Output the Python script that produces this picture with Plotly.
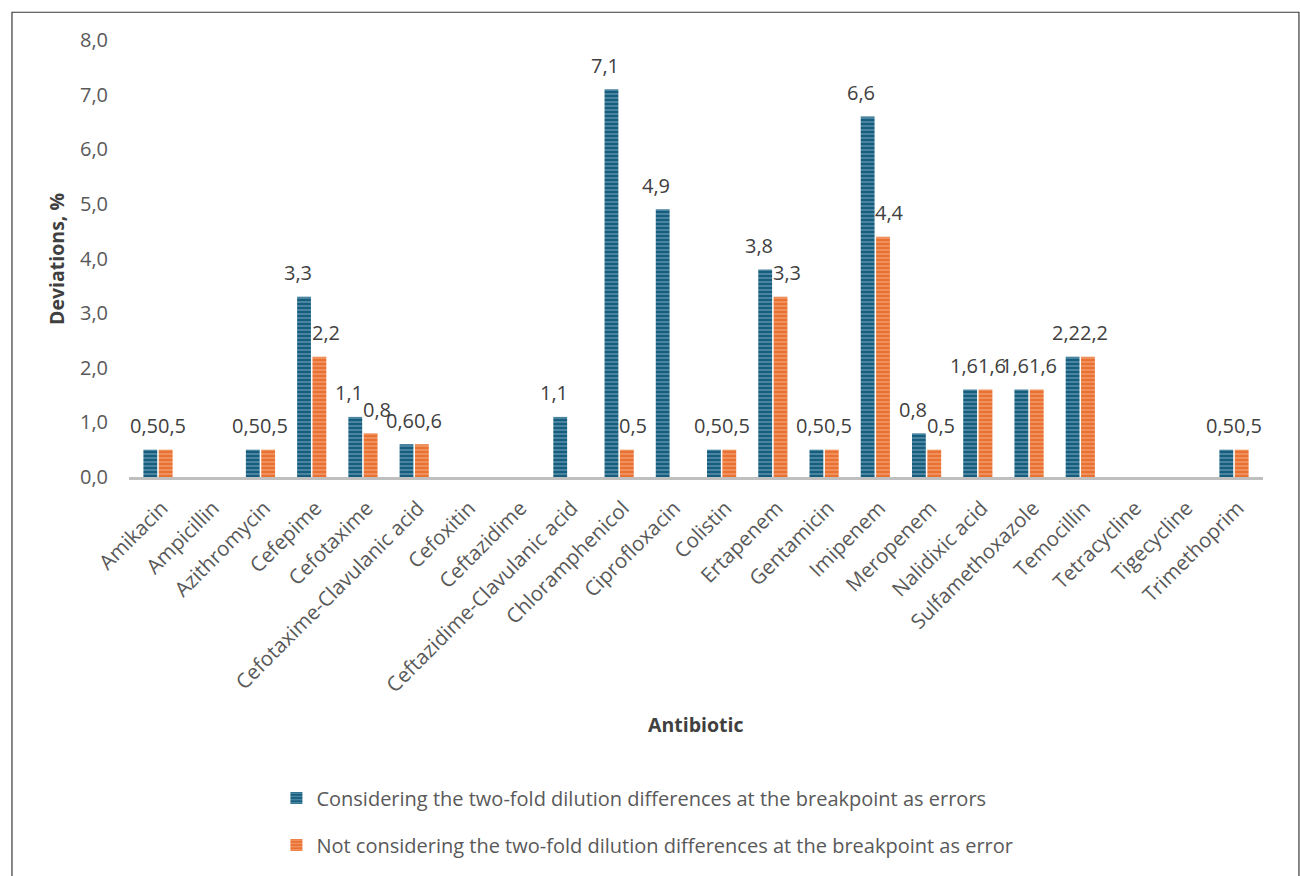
import plotly.graph_objects as go

# Antibiotics and deviation percentages for the two counting rules
antibiotics = [
    "Amikacin", "Ampicillin", "Azithromycin", "Cefepime", "Cefotaxime",
    "Cefotaxime-Clavulanic acid", "Cefoxitin", "Ceftazidime",
    "Ceftazidime-Clavulanic acid", "Chloramphenicol", "Ciprofloxacin",
    "Colistin", "Ertapenem", "Gentamicin", "Imipenem", "Meropenem",
    "Nalidixic acid", "Sulfamethoxazole", "Temocillin", "Tetracycline",
    "Tigecycline", "Trimethoprim",
]
with_twofold = [0.5, 0, 0.5, 3.3, 1.1, 0.6, 0, 0, 1.1, 7.1, 4.9,
                0.5, 3.8, 0.5, 6.6, 0.8, 1.6, 1.6, 2.2, 0, 0, 0.5]
without_twofold = [0.5, 0, 0.5, 2.2, 0.8, 0.6, 0, 0, 0, 0.5, 0,
                   0.5, 3.3, 0.5, 4.4, 0.5, 1.6, 1.6, 2.2, 0, 0, 0.5]
series_names = [
    "Considering the two-fold dilution differences at the breakpoint as errors",
    "Not considering the two-fold dilution differences at the breakpoint as error",
]
y_ticks = [0, 1, 2, 3, 4, 5, 6, 7, 8]

FONT = "Open Sans"
BLUE, BLUE_STRIPE = "#175d7e", "#86b5cb"
ORANGE, ORANGE_STRIPE = "#e97132", "#f7b792"


def fmt(v):
    return f"{v:.1f}".replace(".", ",")


fig = go.Figure()
for name, vals, col, stripe, grp in [
    (series_names[0], with_twofold, BLUE, BLUE_STRIPE, "a"),
    (series_names[1], without_twofold, ORANGE, ORANGE_STRIPE, "b"),
]:
    fig.add_trace(go.Bar(
        x=antibiotics, y=vals, name=name, legendgroup=grp,
        marker=dict(color=col, line=dict(width=0),
                    pattern=dict(shape="-", fgcolor=stripe, size=4,
                                 solidity=0.45, fillmode="overlay")),
    ))

# Value labels: first series to the left of the category centre, second to the right
annotations = []
for vals, anchor, shift in [(with_twofold, "right", 1), (without_twofold, "left", -1)]:
    for cat, v in zip(antibiotics, vals):
        if v > 0:
            annotations.append(dict(
                x=cat, y=v, xref="x", yref="y", text=fmt(v), showarrow=False,
                xanchor=anchor, yanchor="middle", yshift=24, xshift=shift,
                borderpad=0,
                font=dict(family=FONT, size=20, color="#404040"),
            ))

annotations.append(dict(
    x=0.5, y=-0.567, xref="paper", yref="paper", text="<b>Antibiotic</b>",
    showarrow=False, xanchor="center", yanchor="middle",
    font=dict(family=FONT, size=19.5, color="#404040"),
))
annotations.append(dict(
    x=-0.064, y=0.5, xref="paper", yref="paper", text="<b>Deviations, %</b>",
    showarrow=False, textangle=-90, xanchor="center", yanchor="middle",
    font=dict(family=FONT, size=19.5, color="#404040"),
))

fig.update_layout(
    width=1300, height=876,
    margin=dict(l=129, r=37, t=40, b=395),
    paper_bgcolor="white", plot_bgcolor="white",
    barmode="group", bargap=0.4, bargroupgap=0.1,
    font=dict(family=FONT, color="#595959"),
    annotations=annotations,
    showlegend=True,
    legend=dict(
        orientation="v", x=0.13, xanchor="left", y=-0.69, yanchor="top",
        font=dict(family=FONT, size=20, color="#595959"),
        tracegroupgap=18, bgcolor="rgba(0,0,0,0)",
    ),
    shapes=[dict(type="rect", xref="paper", yref="paper",
                 x0=-0.1032, x1=1.0317, y0=-0.93, y1=1.0635,
                 line=dict(color="#3a3a3a", width=1.2), layer="below")],
)
fig.update_xaxes(
    showline=True, linecolor="#bfbfbf", linewidth=3, showgrid=False,
    ticks="", tickangle=-45, ticklabelstandoff=8, ticklabelshift=4,
    tickfont=dict(family=FONT, size=20.5, color="#595959"),
)
fig.update_yaxes(
    range=[0, 8], tickvals=y_ticks, ticktext=[fmt(t) for t in y_ticks],
    showgrid=False, zeroline=False, showline=False, ticks="",
    ticklabelstandoff=20,
    tickfont=dict(family=FONT, size=20, color="#595959"),
)

fig.write_html("out.html")
